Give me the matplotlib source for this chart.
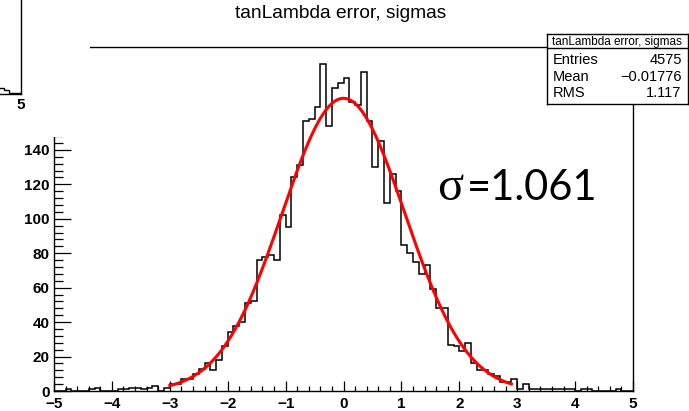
import numpy as np
import matplotlib.pyplot as plt
from matplotlib.ticker import MultipleLocator

plt.rcParams['font.family'] = ['Liberation Sans', 'DejaVu Sans']

# 100 bins of width 0.1 between -5 and 5
edges = np.linspace(-5, 5, 101)
counts = [
    0, 0, 1, 0, 0, 0, 1, 2, 0, 0,            # -5.0 .. -4.1
    0, 1, 1, 2, 2, 1, 2, 3, 0, 2,            # -4.0 .. -3.1
    4, 4, 7, 7, 10, 13, 16, 12, 18, 26,      # -3.0 .. -2.1
    34, 38, 40, 51, 52, 76, 78, 79, 76, 102, # -2.0 .. -1.1
    95, 124, 131, 157, 158, 165, 190, 154, 176, 179,  # -1.0 .. -0.1
    182, 168, 166, 185, 157, 130, 145, 109, 126, 116, # 0.0 .. 0.9
    85, 80, 75, 68, 73, 59, 48, 48, 27, 26,  # 1.0 .. 1.9
    23, 28, 16, 12, 12, 10, 9, 5, 5, 7,      # 2.0 .. 2.9
    1, 4, 1, 1, 1, 1, 1, 1, 1, 1,            # 3.0 .. 3.9
    0, 1, 1, 0, 0, 0, 0, 1, 0, 0,            # 4.0 .. 4.9
]

hist_title = "tanLambda error, sigmas"
stat_names = ["Entries", "Mean", "RMS"]
stat_values = ["4575", "\u22120.01776", "1.117"]

# gaussian fit result
fit_const = 170.0
fit_mean = 0.0
fit_sigma = 1.061
fit_lo, fit_hi = -3.0, 2.9

# tail of the neighbouring pad that overlaps the top-left corner
other_edges = [4.6, 4.7, 4.8, 4.9, 5.0]
other_counts = [4, 3, 1, 1]

W, H = 689, 411
fig = plt.figure(figsize=(W / 100, H / 100), dpi=100)


def box(x0, y0, x1, y1):
    # pixel box (origin top-left) -> figure fraction rect
    return [x0 / W, 1 - y1 / H, (x1 - x0) / W, (y1 - y0) / H]


ax = fig.add_axes(box(54, 47.5, 633, 391))
ax.stairs(counts, edges, color='black', lw=1.1)
xf = np.linspace(fit_lo, fit_hi, 200)
ax.plot(xf, fit_const * np.exp(-0.5 * ((xf - fit_mean) / fit_sigma) ** 2),
        color='red', lw=2.2)
ax.set_xlim(-5, 5)
ax.set_ylim(0, 1.05 * max(counts))
ax.xaxis.set_major_locator(MultipleLocator(1))
ax.xaxis.set_minor_locator(MultipleLocator(0.2))
ax.yaxis.set_major_locator(MultipleLocator(20))
ax.yaxis.set_minor_locator(MultipleLocator(4))
ax.tick_params(axis='x', which='major', direction='in', length=7.2, width=0.9,
               pad=4.5, labelsize=11)
ax.tick_params(axis='x', which='minor', direction='in', length=3.6, width=0.9)
ax.tick_params(axis='y', which='major', direction='in', length=12.2, width=0.9,
               pad=3, labelsize=11)
ax.tick_params(axis='y', which='minor', direction='in', length=6.5, width=0.9)
for lab in ax.get_xticklabels() + ax.get_yticklabels():
    lab.set_fontweight('bold')
for s in ax.spines.values():
    s.set_linewidth(1.0)

fig.text(341 / W, 1 - 14 / H, hist_title, ha='center', va='center', fontsize=13.8)

# stats box
st = fig.add_axes(box(546.5, 34, 688, 103.5), zorder=5)
st.set_facecolor('white')
st.set_xticks([])
st.set_yticks([])
for s in st.spines.values():
    s.set_linewidth(1.0)
st.set_xlim(0, 1)
st.set_ylim(1, 0)
st.axhline(14 / 69.5, color='black', lw=1.0)
st.text(0.5, 7.5 / 69.5, hist_title, ha='center', va='center', fontsize=8.5)
for i, (n, v) in enumerate(zip(stat_names, stat_values)):
    yy = (18 + 16.5 * (i + 0.5)) / 69.5
    st.text(0.045, yy, n, ha='left', va='center', fontsize=10.5)
    st.text(0.955, yy, v, ha='right', va='center', fontsize=10.5)

# sigma annotation
fig.text(437 / W, 1 - 200 / H, "\u03c3", fontsize=35, family='Liberation Serif',
         ha='left', va='baseline')
fig.text(467 / W, 1 - 200 / H, "=1.061", fontsize=30, family='Lato',
         ha='left', va='baseline')

# white patch of the overlapping pad, with its last bins
cover = fig.add_axes(box(0, 0, 90, 137), zorder=10)
cover.set_facecolor('white')
cover.set_xticks([])
cover.set_yticks([])
for s in cover.spines.values():
    s.set_visible(False)

other = fig.add_axes(box(-560, -200, 21, 94), zorder=11)
other.patch.set_visible(False)
other.stairs(other_counts, other_edges, color='black', lw=1.0)
other.set_xlim(-5, 5)
other.set_ylim(0, 200)
other.set_xticks([5])
other.set_xticklabels(['5'], fontweight='bold', fontsize=11)
other.set_yticks([])
other.tick_params(axis='x', direction='in', length=0, pad=3)
for s in other.spines.values():
    s.set_linewidth(1.0)

fig.savefig('out.png', dpi=100)
